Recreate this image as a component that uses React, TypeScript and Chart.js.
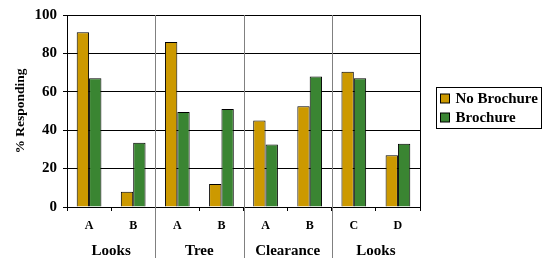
import React, { useEffect, useRef } from 'react';
import { Chart, registerables } from 'chart.js';

Chart.register(...registerables);

const categories = ['A', 'B', 'A', 'B', 'A', 'B', 'C', 'D'];
const groups = ['Looks', 'Tree', 'Clearance', 'Looks'];
const groupSizes = [2, 2, 2, 2];
const seriesNames = ['No Brochure', 'Brochure'];
const noBrochure = [91, 8, 86, 12, 45, 52.5, 70.5, 27];
const brochure = [67, 33.5, 49.5, 51, 32.5, 68, 67, 33];
const yMin = 0;
const yMax = 100;
const yStep = 20;

const GOLD = '#CC9900';
const GREEN = '#3A8532';
const FONT = "'Liberation Serif', 'Times New Roman', serif";

const groupPlugin = {
  id: 'groupPlugin',
  afterDraw(chart: any) {
    const { ctx, chartArea, scales } = chart;
    const x = scales.x;
    const catW = (chartArea.right - chartArea.left) / categories.length;
    ctx.save();
    ctx.lineWidth = 1;
    // right border
    const rx = Math.round(chartArea.right) + 0.5;
    ctx.strokeStyle = '#000';
    ctx.beginPath();
    ctx.moveTo(rx, chartArea.top);
    ctx.lineTo(rx, chartArea.bottom + 4);
    ctx.stroke();
    // group separators and labels
    let idx = 0;
    ctx.font = `bold 15px ${FONT}`;
    ctx.fillStyle = '#000';
    ctx.textAlign = 'center';
    ctx.textBaseline = 'middle';
    groups.forEach((g, gi) => {
      const start = idx;
      const end = idx + groupSizes[gi] - 1;
      const left = x.getPixelForValue(start) - catW / 2;
      const right = x.getPixelForValue(end) + catW / 2;
      if (gi > 0) {
        const sx = Math.round(left) + 0.5;
        ctx.strokeStyle = '#808080';
        ctx.beginPath();
        ctx.moveTo(sx, chartArea.top);
        ctx.lineTo(sx, chart.height - 3);
        ctx.stroke();
      }
      ctx.fillText(g, (left + right) / 2, chartArea.bottom + 44);
      idx += groupSizes[gi];
    });
    // legend
    ctx.font = `bold 15px ${FONT}`;
    ctx.textAlign = 'left';
    const textW = Math.max(...seriesNames.map((s) => ctx.measureText(s).width));
    const bx = Math.round(chartArea.right) + 16.5;
    const by = 87.5;
    const bw = Math.round(4 + 9 + 6 + textW + 4);
    const bh = 41;
    ctx.strokeStyle = '#000';
    ctx.strokeRect(bx, by, bw, bh);
    const colors = [GOLD, GREEN];
    seriesNames.forEach((s, i) => {
      const cy = by + 11 + i * 19;
      ctx.fillStyle = colors[i];
      ctx.fillRect(bx + 4, cy - 4.5, 9, 9);
      ctx.strokeStyle = '#000';
      ctx.strokeRect(bx + 4, cy - 4.5, 9, 9);
      ctx.fillStyle = '#000';
      ctx.fillText(s, bx + 19, cy + 1);
    });
    ctx.restore();
  },
};

export default function App() {
  const ref = useRef<HTMLCanvasElement>(null);
  useEffect(() => {
    if (!ref.current) return;
    const chart = new Chart(ref.current, {
      type: 'bar',
      data: {
        labels: categories,
        datasets: [
          {
            label: seriesNames[0],
            data: noBrochure,
            backgroundColor: GOLD,
            borderColor: '#000',
            borderWidth: 1,
            categoryPercentage: 0.56,
            barPercentage: 1,
          },
          {
            label: seriesNames[1],
            data: brochure,
            backgroundColor: GREEN,
            borderColor: '#000',
            borderWidth: 1,
            categoryPercentage: 0.56,
            barPercentage: 1,
          },
        ],
      },
      options: {
        responsive: false,
        animation: false,
        devicePixelRatio: 1,
        layout: { padding: { top: 15, right: 128, bottom: 0, left: 0 } },
        plugins: { legend: { display: false }, tooltip: { enabled: false } },
        scales: {
          x: {
            type: 'category',
            offset: true,
            grid: {
              display: true,
              offset: true,
              drawOnChartArea: false,
              drawTicks: true,
              tickLength: 4,
              color: '#000',
            },
            border: { display: true, color: '#000' },
            ticks: {
              color: '#000',
              font: { family: FONT, size: 12, weight: 'bold' },
              padding: 8,
              maxRotation: 0,
            },
            afterFit(scale: any) {
              scale.height = 54;
            },
          },
          y: {
            min: yMin,
            max: yMax,
            grid: { color: '#000', lineWidth: 1, tickLength: 4, drawTicks: true },
            border: { display: true, color: '#000' },
            ticks: {
              stepSize: yStep,
              color: '#000',
              padding: 6,
              font: { family: FONT, size: 15, weight: 'bold' },
            },
            title: {
              display: true,
              text: '% Responding',
              color: '#000',
              font: { family: FONT, size: 13.5, weight: 'bold' },
              padding: { top: 12, bottom: 0 },
            },
            afterFit(scale: any) {
              scale.width = 67;
            },
          },
        },
      },
      plugins: [groupPlugin],
    });
    return () => chart.destroy();
  }, []);
  return (
    <div style={{ position: 'absolute', left: 0, top: 0, width: 548, height: 261, background: '#fff' }}>
      <canvas ref={ref} width={548} height={261} style={{ display: 'block' }} />
    </div>
  );
}
